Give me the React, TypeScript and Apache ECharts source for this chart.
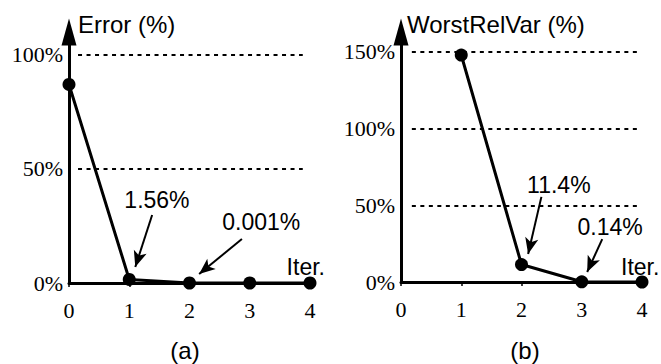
import React, { useEffect, useRef } from "react";
import * as echarts from "echarts";

// Iteration index on the x axis
const iterations = [0, 1, 2, 3, 4];

// (a) relative error per iteration (%)
const errorValues = [87, 1.56, 0.001, 0, 0];
// (b) worst relative variation per iteration (%), undefined at iteration 0
const worstRelVarValues = [null, 148, 11.4, 0.14, 0];

// y tick labels shown on each panel
const errorTicks = [0, 50, 100];
const worstTicks = [0, 50, 100, 150];

// callouts: [text, labelX, labelY, arrowFromX, arrowFromY, arrowTipX, arrowTipY]
type Callout = [string, number, number, number, number, number, number];
const errorCallouts: Callout[] = [
  ["1.56%", 1.46, 36.4, 1.38, 29.8, 1.1, 7.0],
  ["0.001%", 3.19, 26.8, 2.87, 19.3, 2.16, 3.9],
];
const worstCallouts: Callout[] = [
  ["11.4%", 2.62, 63.3, 2.33, 55.5, 2.11, 18.3],
  ["0.14%", 3.47, 35.9, 3.34, 28.0, 3.09, 6.5],
];
const iterLabelA: [number, number] = [3.93, 7.0];
const iterLabelB: [number, number] = [3.97, 9.8];

const SANS = "Liberation Sans, Arial, sans-serif";
const SERIF = "Liberation Serif, Times New Roman, serif";

function xAxisFor(gridIndex: number) {
  return {
    type: "value",
    gridIndex,
    min: 0,
    max: 4,
    interval: 1,
    axisLine: { show: true, lineStyle: { color: "#000", width: 3 } },
    axisTick: { show: true, length: 4, lineStyle: { color: "#000", width: 1.5 } },
    axisLabel: {
      color: "#000",
      fontFamily: SERIF,
      fontSize: 22,
      margin: 16,
    },
    splitLine: { show: false },
  };
}

function yAxisFor(gridIndex: number, max: number, ticks: number[], name: string, padLeft: number) {
  return {
    type: "value",
    gridIndex,
    min: 0,
    max,
    interval: 50,
    name,
    nameLocation: "end",
    nameGap: 8,
    nameTextStyle: {
      color: "#000",
      fontFamily: SANS,
      fontSize: 24,
      align: "left",
      verticalAlign: "middle",
      padding: [0, 0, 0, padLeft],
    },
    axisLine: {
      show: true,
      symbol: ["none", "triangle"],
      symbolSize: [15, 27],
      lineStyle: { color: "#000", width: 3 },
    },
    axisTick: { show: false },
    axisLabel: {
      color: "#000",
      fontFamily: SERIF,
      fontSize: 22,
      margin: 6,
      formatter: (v: number) => (ticks.includes(v) ? `${v}%` : ""),
    },
    splitLine: { show: false },
  };
}

function gridLines(ticks: number[], x0: number, x1: number) {
  return ticks
    .filter((t) => t > 0)
    .map((t) => [{ coord: [x0, t] }, { coord: [x1, t] }]);
}

function arrowLines(callouts: Callout[]) {
  return callouts.map((c) => [{ coord: [c[3], c[4]] }, { coord: [c[5], c[6]] }]);
}

function calloutLabels(callouts: Callout[], iter: [number, number]) {
  const pts = callouts.map((c) => ({ name: c[0], coord: [c[1], c[2]] }));
  pts.push({ name: "Iter.", coord: [iter[0], iter[1]] });
  return pts;
}

function mainSeries(idx: number, values: (number | null)[], callouts: Callout[], iter: [number, number]) {
  const data = iterations.map((x, i) => [x, values[i]]).filter((p) => p[1] !== null);
  return {
    type: "line",
    xAxisIndex: idx,
    yAxisIndex: idx,
    data,
    symbol: "circle",
    symbolSize: 13,
    lineStyle: { color: "#000", width: 3 },
    itemStyle: { color: "#000" },
    z: 5,
    markLine: {
      silent: true,
      symbol: ["none", "arrow"],
      symbolSize: [10, 16],
      label: { show: false },
      lineStyle: { color: "#000", width: 2, type: "solid" },
      data: arrowLines(callouts),
    },
    markPoint: {
      silent: true,
      symbol: "circle",
      symbolSize: 0,
      itemStyle: { color: "transparent" },
      label: {
        show: true,
        position: "inside",
        color: "#000",
        fontFamily: SANS,
        fontSize: 23,
        formatter: (p: any) => p.name,
      },
      data: calloutLabels(callouts, iter),
    },
  };
}

function gridSeries(idx: number, ticks: number[], x0: number, x1: number) {
  return {
    type: "line",
    xAxisIndex: idx,
    yAxisIndex: idx,
    data: [],
    z: 1,
    markLine: {
      silent: true,
      symbol: ["none", "none"],
      label: { show: false },
      lineStyle: { color: "#000", width: 2, type: [4, 4.5] },
      data: gridLines(ticks, x0, x1),
    },
  };
}

function caption(text: string, x: number) {
  return {
    type: "text",
    x,
    y: 350,
    style: {
      text,
      fill: "#000",
      font: `24px ${SANS}`,
      align: "center",
      verticalAlign: "middle",
    },
  };
}

export default function App() {
  const ref = useRef<HTMLDivElement>(null);

  useEffect(() => {
    if (!ref.current) return;
    const chart = echarts.init(ref.current, null, { renderer: "svg" });
    chart.setOption({
      animation: false,
      backgroundColor: "#fff",
      grid: [
        { left: 69, right: 351, top: 32, bottom: 81 },
        { left: 401, right: 19, top: 32, bottom: 82 },
      ],
      xAxis: [xAxisFor(0), xAxisFor(1)],
      yAxis: [
        yAxisFor(0, 110.0, errorTicks, "Error (%)", 9),
        yAxisFor(1, 163.0, worstTicks, "WorstRelVar (%)", 6),
      ],
      graphic: [caption("(a)", 185), caption("(b)", 525)],
      series: [
        gridSeries(0, errorTicks, 0.15, 3.88),
        mainSeries(0, errorValues, errorCallouts, iterLabelA),
        gridSeries(1, worstTicks, 0.18, 3.92),
        mainSeries(1, worstRelVarValues, worstCallouts, iterLabelB),
      ],
    });
    return () => chart.dispose();
  }, []);

  return (
    <div
      ref={ref}
      style={{ position: "absolute", left: 0, top: 0, width: 661, height: 364 }}
    />
  );
}
